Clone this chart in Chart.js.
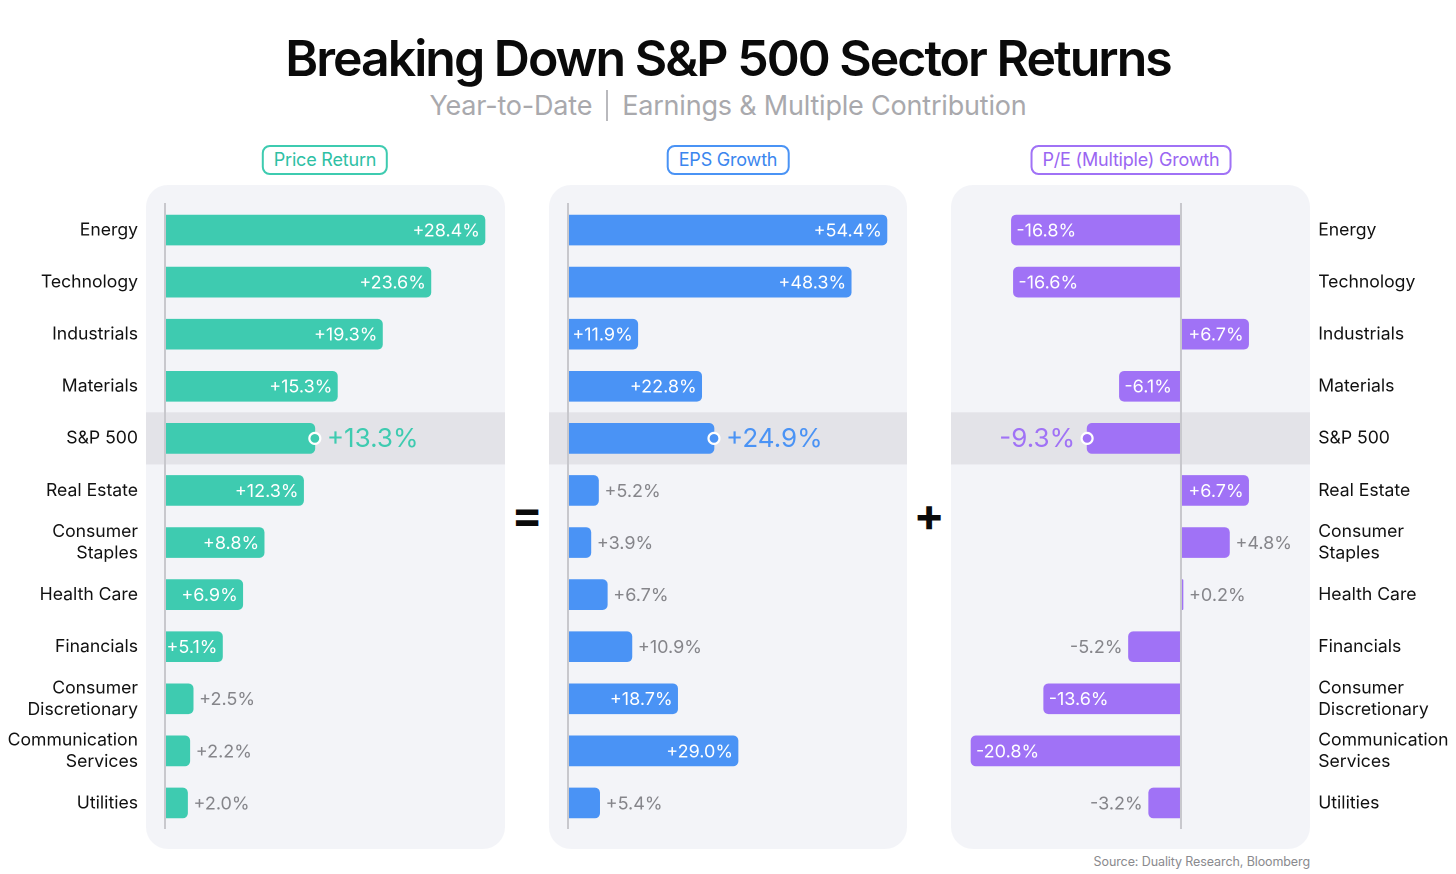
<!DOCTYPE html>
<html>
<head>
<meta charset="utf-8">
<script src="https://cdn.jsdelivr.net/npm/chart.js@4"></script>
<style>
  html, body { margin: 0; padding: 0; background: #ffffff; }
  body { width: 1456px; height: 874px; position: relative; overflow: hidden; font-family: Inter, "Noto Sans", sans-serif; }
  .title { position: absolute; left: 0; width: 1456px; top: 28px; text-align: center; font-size: 50px; font-weight: 600; letter-spacing: -2px; color: #0a0a0a; }
  .subtitle { position: absolute; left: 0; width: 1456px; top: 89px; text-align: center; font-size: 27px; font-weight: 400; color: #a9a9ad; letter-spacing: -0.2px; }
  .subtitle .sep { display: inline-block; width: 2px; height: 31px; background: #b9b9bd; vertical-align: -6px; margin: 0 14px; }
  .pill { position: absolute; top: 145px; height: 26px; line-height: 26px; border: 2px solid; border-radius: 8px; font-size: 18px; text-align: center; box-sizing: content-box; padding: 0 10px; transform: translateX(-50%); letter-spacing: -0.2px; }
  .op { position: absolute; font-weight: 700; font-size: 46px; color: #0a0a0a; transform: translate(-50%, -50%); }
  .source { position: absolute; right: 146px; top: 854px; font-size: 12.5px; color: #8a8a8e; letter-spacing: -0.1px; }
  canvas { position: absolute; }
</style>
</head>
<body>
<div class="title">Breaking Down S&amp;P 500 Sector Returns</div>
<div class="subtitle">Year-to-Date<span class="sep"></span>Earnings &amp; Multiple Contribution</div>
<div class="pill" style="left:325px;color:#2fc0a4;border-color:#3ecbb0;">Price Return</div>
<div class="pill" style="left:728px;color:#3b86ee;border-color:#4a93f5;">EPS Growth</div>
<div class="pill" style="left:1131px;color:#9a66f2;border-color:#a072f6;">P/E (Multiple) Growth</div>
<div class="op" style="left:527px;top:514px;">=</div>
<div class="op" style="left:929px;top:514px;">+</div>
<div class="source">Source: Duality Research, Bloomberg</div>

<canvas id="c1" style="left:0px;top:185px;width:505px;height:664px;"></canvas>
<canvas id="c2" style="left:549px;top:185px;width:358px;height:664px;"></canvas>
<canvas id="c3" style="left:951px;top:185px;width:505px;height:664px;"></canvas>

<script>
const sectors = [
  ['Energy'], ['Technology'], ['Industrials'], ['Materials'], ['S&P 500'], ['Real Estate'],
  ['Consumer', 'Staples'], ['Health Care'], ['Financials'], ['Consumer', 'Discretionary'],
  ['Communication', 'Services'], ['Utilities']
];
const priceReturn = [28.4, 23.6, 19.3, 15.3, 13.3, 12.3, 8.8, 6.9, 5.1, 2.5, 2.2, 2.0];
const epsGrowth = [54.4, 48.3, 11.9, 22.8, 24.9, 5.2, 3.9, 6.7, 10.9, 18.7, 29.0, 5.4];
const peGrowth = [-16.8, -16.6, 6.7, -6.1, -9.3, 6.7, 4.8, 0.2, -5.2, -13.6, -20.8, -3.2];

// which value labels sit inside their bar (white) rather than beside it (grey)
const priceInside = [true, true, true, true, false, true, true, true, true, false, false, false];
const epsInside = [true, true, true, true, false, false, false, false, false, true, true, false];
const peInside = [true, true, true, true, false, true, false, false, false, true, true, false];

const highlightIndex = 4;
const FONT = 'Inter, "Noto Sans", sans-serif';

function fmt(v) {
  return (v >= 0 ? '+' : '') + v.toFixed(1) + '%';
}

// panel background, highlighted row, zero line and value labels
const panelPlugin = {
  id: 'panel',
  beforeDatasetsDraw(chart, args, opts) {
    const { ctx, chartArea } = chart;
    const y = chart.scales.y;
    const x0 = opts.x0, x1 = opts.x1;
    const top = chartArea.top - 19, bottom = chartArea.bottom + 20;
    ctx.save();
    ctx.fillStyle = '#f3f4f8';
    ctx.beginPath();
    ctx.roundRect(x0, top, x1 - x0, bottom - top, 22);
    ctx.fill();
    const step = (chartArea.bottom - chartArea.top) / sectors.length;
    const cy = y.getPixelForValue(highlightIndex);
    ctx.fillStyle = '#e3e3e8';
    ctx.fillRect(x0, cy - step / 2, x1 - x0, step);
    ctx.restore();
  },
  afterDatasetsDraw(chart, args, opts) {
    const { ctx, chartArea } = chart;
    const zx = chart.scales.x.getPixelForValue(0);
    ctx.save();
    ctx.strokeStyle = '#c8c8cd';
    ctx.lineWidth = 2;
    ctx.beginPath();
    ctx.moveTo(zx, chartArea.top - 1);
    ctx.lineTo(zx, chartArea.bottom);
    ctx.stroke();

    const meta = chart.getDatasetMeta(0);
    const values = chart.data.datasets[0].data;
    const color = chart.data.datasets[0].backgroundColor;
    ctx.textBaseline = 'middle';
    meta.data.forEach((bar, i) => {
      const v = values[i];
      const pos = v >= 0;
      const text = fmt(v);
      if (i === highlightIndex) {
        ctx.beginPath();
        ctx.arc(bar.x, bar.y, 5.5, 0, Math.PI * 2);
        ctx.fillStyle = color;
        ctx.fill();
        ctx.strokeStyle = '#ffffff';
        ctx.lineWidth = 2.2;
        ctx.stroke();
        ctx.font = '400 26px ' + FONT;
        ctx.fillStyle = color;
        ctx.textAlign = pos ? 'left' : 'right';
        ctx.fillText(text, bar.x + (pos ? 12 : -12), bar.y + 1);
        return;
      }
      ctx.font = '400 18px ' + FONT;
      if (opts.inside[i]) {
        ctx.fillStyle = '#ffffff';
        ctx.textAlign = pos ? 'right' : 'left';
        ctx.fillText(text, bar.x + (pos ? -5 : 5), bar.y + 1);
      } else {
        ctx.fillStyle = '#85858a';
        ctx.textAlign = pos ? 'left' : 'right';
        ctx.fillText(text, bar.x + (pos ? 6 : -6), bar.y + 1);
      }
    });
    ctx.restore();
  }
};

function makeChart(id, values, color, cfg) {
  return new Chart(document.getElementById(id), {
    type: 'bar',
    data: {
      labels: sectors,
      datasets: [{
        data: values,
        backgroundColor: color,
        borderRadius: 5,
        borderSkipped: 'start',
        barThickness: 30
      }]
    },
    options: {
      indexAxis: 'y',
      responsive: false,
      animation: false,
      devicePixelRatio: 2,
      layout: { padding: cfg.padding },
      plugins: {
        legend: { display: false },
        tooltip: { enabled: false },
        panel: { x0: cfg.x0, x1: cfg.x1, inside: cfg.inside }
      },
      scales: {
        x: { display: false, min: cfg.min, max: cfg.max },
        y: {
          display: cfg.labels !== false,
          position: cfg.labels || 'left',
          grid: { display: false, drawTicks: true, tickLength: cfg.tickLen || 0 },
          border: { display: false },
          afterFit(axis) { if (cfg.axisWidth) axis.width = cfg.axisWidth; },
          ticks: {
            padding: 6,
            color: '#111111',
            font: { family: FONT, size: 17.6, lineHeight: 1.22 }
          }
        }
      }
    },
    plugins: [panelPlugin]
  });
}

function sized(id, w, h) {
  const c = document.getElementById(id);
  c.width = w; c.height = h;
}
sized('c1', 505, 664);
sized('c2', 358, 664);
sized('c3', 505, 664);

makeChart('c1', priceReturn, '#3ecbb0', {
  min: 0, max: 30, labels: 'left', axisWidth: 165, tickLen: 21,
  padding: { top: 19, bottom: 20, left: 0, right: 2 },
  x0: 146, x1: 505, inside: priceInside
});
makeChart('c2', epsGrowth, '#4a93f5', {
  min: 0, max: 57, labels: false,
  padding: { top: 19, bottom: 20, left: 19, right: 4.8 },
  x0: 0, x1: 358, inside: epsInside
});
makeChart('c3', peGrowth, '#a072f6', {
  min: -22, max: 12.8, labels: 'right', axisWidth: 145.8, tickLen: 2,
  padding: { top: 19, bottom: 20, left: 7.9, right: 0 },
  x0: 0, x1: 359, inside: peInside
});
</script>
</body>
</html>
